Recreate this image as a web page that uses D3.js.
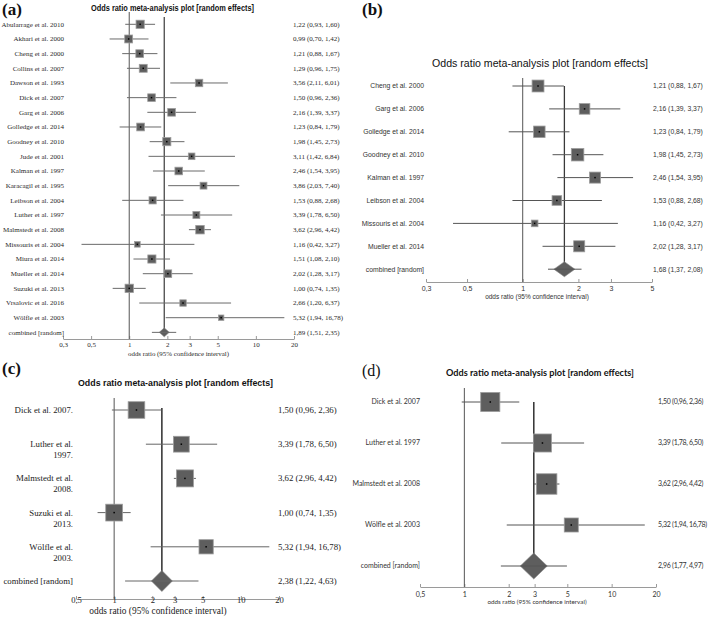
<!DOCTYPE html>
<html><head><meta charset="utf-8">
<script src="https://cdn.jsdelivr.net/npm/d3@7"></script>
<style>body{margin:0;background:#fff}svg{display:block}</style>
</head><body>
<svg id="chart" width="709" height="620"></svg>
<script>
// ---------------- DATA ----------------
const titleText = "Odds ratio meta-analysis plot [random effects]";
const axisLabelText = "odds ratio (95% confidence interval)";
const combinedLabel = "combined [random]";

// Panel (a)
const studiesA = ["Abularrage et al. 2010","Akhari et al. 2000","Cheng et al. 2000","Collins et al. 2007","Dawson et al. 1993","Dick et al. 2007","Garg et al. 2006","Golledge et al. 2014","Goodney et al. 2010","Jude et al. 2001","Kalman et al. 1997","Karacagil et al. 1995","Leibson et al. 2004","Luther et al. 1997","Malmstedt et al. 2008","Missouris et al. 2004","Miura et al. 2014","Mueller et al. 2014","Suzuki et al. 2013","Vrsalovic et al. 2016","Wölfle et al. 2003"];
const orA   = [1.22,0.99,1.21,1.29,3.56,1.50,2.16,1.23,1.98,3.11,2.46,3.86,1.53,3.39,3.62,1.16,1.51,2.02,1.00,2.66,5.32];
const lowA  = [0.93,0.70,0.88,0.96,2.11,0.96,1.39,0.84,1.45,1.42,1.54,2.03,0.88,1.78,2.96,0.42,1.08,1.28,0.74,1.20,1.94];
const highA = [1.60,1.42,1.67,1.75,6.01,2.36,3.37,1.79,2.73,6.84,3.95,7.40,2.68,6.50,4.42,3.27,2.10,3.17,1.35,6.37,16.78];
const weightA = [5.6,5.2,5.0,5.2,4.6,4.8,4.9,5.0,5.5,3.6,4.8,3.9,4.3,4.0,6.0,2.6,5.5,4.8,5.8,3.4,2.4];
const pooledA = [1.89,1.51,2.35];
const ticksA = [0.3,0.5,1,2,3,5,10,20];

// Panel (b)
const studiesB = ["Cheng et al. 2000","Garg et al. 2006","Golledge et al. 2014","Goodney et al. 2010","Kalman et al. 1997","Leibson et al. 2004","Missouris et al. 2004","Mueller et al. 2014"];
const orB   = [1.21,2.16,1.23,1.98,2.46,1.53,1.16,2.02];
const lowB  = [0.88,1.39,0.84,1.45,1.54,0.88,0.42,1.28];
const highB = [1.67,3.37,1.79,2.73,3.95,2.68,3.27,3.17];
const weightB = [14.5,11.5,13.5,16.0,12.5,9.5,4.5,12.5];
const pooledB = [1.68,1.37,2.08];
const ticksB = [0.3,0.5,1,2,3,5];

// Panel (c)
const studiesC = ["Dick et al. 2007.","Luther et al.\n1997.","Malmstedt et al.\n2008.","Suzuki et al.\n2013.","Wölfle et al.\n2003."];
const orC   = [1.50,3.39,3.62,1.00,5.32];
const lowC  = [0.96,1.78,2.96,0.74,1.94];
const highC = [2.36,6.50,4.42,1.35,16.78];
const weightC = [21,19,22,21.5,15.5];
const pooledC = [2.38,1.22,4.63];
const ticksC = [0.5,1,2,3,5,10,20];

// Panel (d)
const studiesD = ["Dick et al. 2007","Luther et al. 1997","Malmstedt et al. 2008","Wölfle et al. 2003"];
const orD   = [1.50,3.39,3.62,5.32];
const lowD  = [0.96,1.78,2.96,1.94];
const highD = [2.36,6.50,4.42,16.78];
const weightD = [27,24,31,14.5];
const pooledD = [2.96,1.77,4.97];
const ticksD = [0.5,1,2,3,5,10,20];

// ---------------- HELPERS ----------------
const comma = s => String(s).replace(".", ",");
const fmt2 = v => v.toFixed(2).replace(".", ",");
const valueText = (o, l, h) => `${fmt2(o)} (${fmt2(l)}, ${fmt2(h)})`;

const SERIF = '"Liberation Serif","Times New Roman",serif';
const ARIAL = '"Liberation Sans",Arial,sans-serif';
const CALI  = 'Lato,"Noto Sans",sans-serif';

const svg = d3.select("#chart");

const panels = [
  {d:{studies:studiesA, or:orA, lo:lowA, hi:highA, w:weightA, pooled:pooledA, ticks:ticksA},
   L:{tag:"(a)", tagX:2, tagY:15, tagFont:SERIF, tagSize:17, tagWeight:"bold",
      titleX:91, titleY:11, titleW:163, titleSize:8.5, titleWeight:"bold", titleFont:ARIAL,
      x0:63, x1:294, y0:24.3, dy:14.67, axisY:339, refTop:12, poolTop:17,
      labelX:64, valueX:293, font:SERIF, fs:7, valFs:7, valLS:0, tickFs:7, tickBase:347, xlabX:178.5, xlabY:355.5, xlabFs:6.9,
      maxSide:8.5, dw:10, dh:9, ciColor:"#6a6a6a", lineH:9, poolW:1.2, textColor:"#2a2a2a"}},
  {d:{studies:studiesB, or:orB, lo:lowB, hi:highB, w:weightB, pooled:pooledB, ticks:ticksB},
   L:{tag:"(b)", tagX:362, tagY:15, tagFont:SERIF, tagSize:17, tagWeight:"bold",
      titleX:432, titleY:67, titleW:216, titleSize:10.6, titleWeight:"normal", titleFont:ARIAL,
      x0:426, x1:652, y0:86, dy:22.9, axisY:282, refTop:78, poolTop:86,
      labelX:424, valueX:653, font:ARIAL, fs:6.8, valFs:6.8, valLS:0, tickFs:7, tickBase:290.5, xlabX:537, xlabY:298.5, xlabFs:6.5,
      maxSide:12.5, dw:21, dh:15, ciColor:"#555", lineH:9, poolW:1.3, textColor:"#333"}},
  {d:{studies:studiesC, or:orC, lo:lowC, hi:highC, w:weightC, pooled:pooledC, ticks:ticksC},
   L:{tag:"(c)", tagX:2, tagY:374, tagFont:SERIF, tagSize:17, tagWeight:"bold",
      titleX:78, titleY:385.5, titleW:195, titleSize:9.5, titleWeight:"bold", titleFont:ARIAL,
      x0:76, x1:279, y0:410, dy:34.2, axisY:599, refTop:398, poolTop:408,
      labelX:73, valueX:278, font:SERIF, fs:8.8, valFs:8.8, valLS:0, tickFs:8.6, tickBase:602.5, xlabX:158, xlabY:614, xlabFs:9.4,
      maxSide:17, dw:21, dh:21, ciColor:"#666", lineH:11, poolW:1.6, textColor:"#222"}},
  {d:{studies:studiesD, or:orD, lo:lowD, hi:highD, w:weightD, pooled:pooledD, ticks:ticksD},
   L:{tag:"(d)", tagX:362, tagY:376, tagFont:SERIF, tagSize:16, tagWeight:"normal",
      titleX:446, titleY:376, titleW:188, titleSize:10, titleWeight:"bold", titleFont:CALI,
      x0:420, x1:656, y0:402, dy:41, axisY:587, refTop:388, poolTop:402,
      labelX:420, valueX:658, font:CALI, fs:7, valFs:7, valLS:-0.3, tickFs:7, tickBase:596.5, xlabX:537, xlabY:603.5, xlabFs:6.3,
      maxSide:20.5, dw:27, dh:26, ciColor:"#555", lineH:9, poolW:1.6, textColor:"#333"}}
];

function drawPanel(d, L) {
  const g = svg.append("g");
  const x = d3.scaleLog().domain([d.ticks[0], d.ticks[d.ticks.length - 1]]).range([L.x0, L.x1]);
  const n = d.studies.length;
  const y = d3.scaleLinear().domain([0, n]).range([L.y0, L.y0 + n * L.dy]);
  const side = d3.scaleSqrt().domain([0, d3.max(d.w)]).range([0, L.maxSide]);
  const rows = d3.range(n);

  // tag and title
  g.append("text").attr("x", L.tagX).attr("y", L.tagY).text(L.tag)
    .attr("font-family", L.tagFont).attr("font-size", L.tagSize).attr("font-weight", L.tagWeight).attr("fill", "#111");
  g.append("text").attr("x", L.titleX).attr("y", L.titleY).text(titleText)
    .attr("font-family", L.titleFont).attr("font-size", L.titleSize).attr("font-weight", L.titleWeight)
    .attr("fill", "#111").attr("textLength", L.titleW).attr("lengthAdjust", "spacingAndGlyphs");

  // axis
  const pad = L.tickBase - L.axisY - 0.71 * L.tickFs;
  const ax = g.append("g").attr("transform", `translate(0,${L.axisY})`)
    .call(d3.axisBottom(x).tickValues(d.ticks).tickFormat(comma).tickSizeInner(-3).tickSizeOuter(0).tickPadding(pad));
  ax.select(".domain").attr("stroke", "#9a9a9a");
  ax.selectAll(".tick line").attr("stroke", "#9a9a9a");
  ax.selectAll("text").attr("font-family", L.font).attr("font-size", L.tickFs).attr("fill", L.textColor);
  ax.attr("font-family", null).attr("font-size", null);

  g.append("text").attr("x", L.xlabX).attr("y", L.xlabY).attr("text-anchor", "middle")
    .attr("font-family", L.font).attr("font-size", L.xlabFs).attr("fill", L.textColor).text(axisLabelText);

  // reference line at OR = 1
  g.append("line").attr("x1", x(1)).attr("x2", x(1)).attr("y1", L.refTop).attr("y2", L.axisY)
    .attr("stroke", "#555").attr("stroke-width", 1);
  // pooled estimate line
  g.append("line").attr("x1", x(d.pooled[0])).attr("x2", x(d.pooled[0]))
    .attr("y1", L.poolTop).attr("y2", y(n))
    .attr("stroke", "#3a3a3a").attr("stroke-width", L.poolW);

  // CI lines
  g.selectAll(".ci").data(rows).join("line")
    .attr("x1", i => x(d.lo[i])).attr("x2", i => x(d.hi[i]))
    .attr("y1", i => y(i)).attr("y2", i => y(i))
    .attr("stroke", L.ciColor).attr("stroke-width", 1);

  // boxes
  g.selectAll(".box").data(rows).join("rect")
    .attr("x", i => x(d.or[i]) - side(d.w[i]) / 2)
    .attr("y", i => y(i) - side(d.w[i]) / 2)
    .attr("width", i => side(d.w[i])).attr("height", i => side(d.w[i]))
    .attr("fill", "#5e5e5e").attr("stroke", "#9d9d9d").attr("stroke-width", 0.8);
  g.selectAll(".dot").data(rows).join("rect")
    .attr("x", i => x(d.or[i]) - 0.75).attr("y", i => y(i) - 0.75)
    .attr("width", 1.5).attr("height", 1.5).attr("fill", "#000");

  // pooled diamond
  const cx = x(d.pooled[0]), cy = y(n);
  g.append("path")
    .attr("d", `M${cx - L.dw / 2},${cy} L${cx},${cy - L.dh / 2} L${cx + L.dw / 2},${cy} L${cx},${cy + L.dh / 2} Z`)
    .attr("fill", "#5e5e5e").attr("stroke", "#8a8a8a").attr("stroke-width", 0.6);
  g.append("line").attr("x1", x(d.pooled[1])).attr("x2", x(d.pooled[2]))
    .attr("y1", cy).attr("y2", cy).attr("stroke", L.ciColor).attr("stroke-width", 1);

  // study labels
  const labels = d.studies.concat([combinedLabel]);
  labels.forEach((lab, i) => {
    const t = g.append("text").attr("x", L.labelX).attr("y", y(i))
      .attr("text-anchor", "end").attr("font-family", L.font).attr("font-size", L.fs).attr("fill", L.textColor);
    lab.split("\n").forEach((part, k) => {
      t.append("tspan").attr("x", L.labelX).attr("dy", k === 0 ? "0.35em" : L.lineH).text(part);
    });
  });

  // value labels
  const vals = rows.map(i => valueText(d.or[i], d.lo[i], d.hi[i]))
    .concat([valueText(d.pooled[0], d.pooled[1], d.pooled[2])]);
  g.selectAll(".val").data(vals).join("text")
    .attr("x", L.valueX).attr("y", (v, i) => y(i)).attr("dy", "0.35em")
    .attr("font-family", L.font).attr("font-size", L.valFs).attr("letter-spacing", L.valLS)
    .attr("fill", L.textColor)
    .text(v => v);
}

panels.forEach(p => drawPanel(p.d, p.L));
</script>
</body></html>
